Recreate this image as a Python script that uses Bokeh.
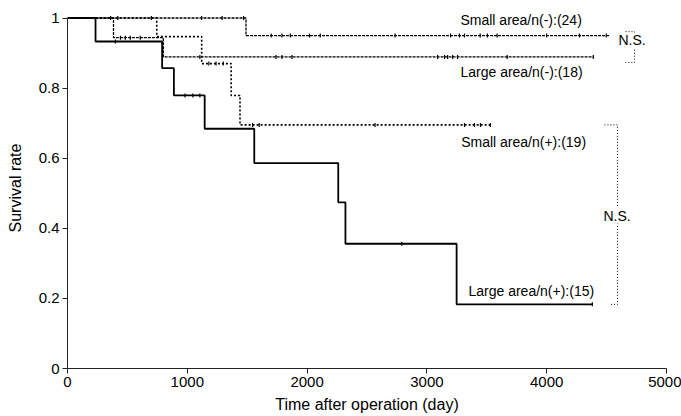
import math
from bokeh.plotting import figure
from bokeh.models import Range1d, FixedTicker, Label
from bokeh.embed import file_html
from bokeh.resources import INLINE

# ---- data ----
small_neg_t = [0, 1490, 4522]
small_neg_s = [1.0, 0.95, 0.95]
small_neg_cens_t = [360, 420, 700, 1120, 1290, 1470, 1700, 1790, 1860, 2020, 2110, 2734, 3198, 3272, 3314, 3445, 3505, 3586, 3999, 4274, 4497]

large_neg_t = [0, 384, 800, 4387]
large_neg_s = [1.0, 0.944, 0.889, 0.889]
large_neg_cens_t = [442, 483, 524, 607, 1105, 1740, 1790, 1874, 3090, 3148, 3173, 3215, 3256, 3670, 4389]

small_pos_t = [0, 745, 1120, 1366, 1440, 3532]
small_pos_s = [1.0, 0.947, 0.870, 0.779, 0.695, 0.695]
small_pos_cens_t = [1180, 1240, 1300, 1545, 1600, 2567, 3314, 3397, 3447, 3530]

large_pos_t = [0, 234, 790, 888, 1145, 1559, 2260, 2320, 3248, 4381]
large_pos_s = [1.0, 0.933, 0.857, 0.779, 0.684, 0.586, 0.474, 0.356, 0.183, 0.183]
large_pos_cens_t = [400, 981, 1047, 1105, 2790, 4381]

x_ticks = [0, 1000, 2000, 3000, 4000, 5000]
y_ticks = [0, 0.2, 0.4, 0.6, 0.8, 1.0]
y_tick_labels = ["0", "0.2", "0.4", "0.6", "0.8", "1"]

labels = ["Small area/n(-):(24)", "Large area/n(-):(18)", "Small area/n(+):(19)", "Large area/n(+):(15)"]
ns_text = "N.S."

FONT = "Liberation Sans"


def surv_at(ts, ss, t):
    v = ss[0]
    for ti, si in zip(ts, ss):
        if ti <= t:
            v = si
    return v


p = figure(width=681, height=416, output_backend="svg", toolbar_location=None,
           x_range=Range1d(0, 5000), y_range=Range1d(0, 1.03),
           min_border_left=67, min_border_right=15, min_border_top=7, min_border_bottom=48)
p.frame_width = 599
p.frame_height = 361
p.outline_line_color = None
p.grid.visible = False
p.background_fill_color = "white"
p.border_fill_color = "white"

series = [
    (small_neg_t, small_neg_s, small_neg_cens_t, "3 1", 1.3),
    (large_neg_t, large_neg_s, large_neg_cens_t, "3 1", 1.3),
    (small_pos_t, small_pos_s, small_pos_cens_t, "2 2", 1.6),
    (large_pos_t, large_pos_s, large_pos_cens_t, "solid", 1.8),
]
for ts, ss, cts, dash, lw in series:
    p.step(ts, ss, mode="after", line_color="black", line_width=lw, line_dash=dash)
    cy = [surv_at(ts, ss, t) for t in cts]
    p.scatter(cts, cy, marker="dash", angle=math.pi / 2, size=4, line_color="black", line_width=1.2)

# brackets for N.S.
b1_top = small_neg_s[-1] + 0.011
b1_bot = large_neg_s[-1] - 0.016
p.line([4658, 4733, 4733, 4658], [b1_top, b1_top, b1_bot, b1_bot], line_color="black",
       line_width=1, line_dash="1 2")
b2_top = small_pos_s[-1]
b2_bot = large_pos_s[-1]
p.line([4482, 4591, 4591, 4524], [b2_top, b2_top, b2_bot, b2_bot], line_color="black",
       line_width=1, line_dash="1 2")

label_pos = [(3280, 0.993), (3280, 0.847), (3286, 0.645), (3347, 0.2225)]
for txt, (lx, ly) in zip(labels, label_pos):
    p.add_layout(Label(x=lx, y=ly, text=txt, text_font=FONT, text_font_size="14px",
                       text_baseline="middle", text_align="left", text_color="black"))
for lx, ly in [(4599, 0.936), (4474, 0.4365)]:
    p.add_layout(Label(x=lx, y=ly, text=ns_text, text_font=FONT, text_font_size="14px",
                       text_baseline="middle", text_align="left", text_color="black",
                       background_fill_color="white"))

# axes
p.xaxis.ticker = FixedTicker(ticks=x_ticks)
p.yaxis.ticker = FixedTicker(ticks=y_ticks)
p.yaxis.major_label_overrides = {t: l for t, l in zip(y_ticks, y_tick_labels)}
p.xaxis.bounds = (0, 5000)
p.yaxis.bounds = (0, 1)
for ax in (p.xaxis, p.yaxis):
    ax.minor_tick_line_color = None
    ax.major_tick_in = 0
    ax.major_tick_out = 5
    ax.axis_line_color = "#222222"
    ax.major_tick_line_color = "#222222"
    ax.major_label_text_font = FONT
    ax.major_label_text_font_size = "15px"
    ax.major_label_text_color = "black"
    ax.axis_label_text_font = FONT
    ax.axis_label_text_font_size = "16px"
    ax.axis_label_text_font_style = "normal"
    ax.axis_label_text_color = "black"
p.xaxis.axis_label = "Time after operation (day)"
p.yaxis.axis_label = "Survival rate"
p.xaxis.major_label_standoff = 3
p.xaxis.axis_label_standoff = 6
p.yaxis.major_label_standoff = 3
p.yaxis.axis_label_standoff = 12

open("out.html", "w").write(file_html(p, INLINE))
